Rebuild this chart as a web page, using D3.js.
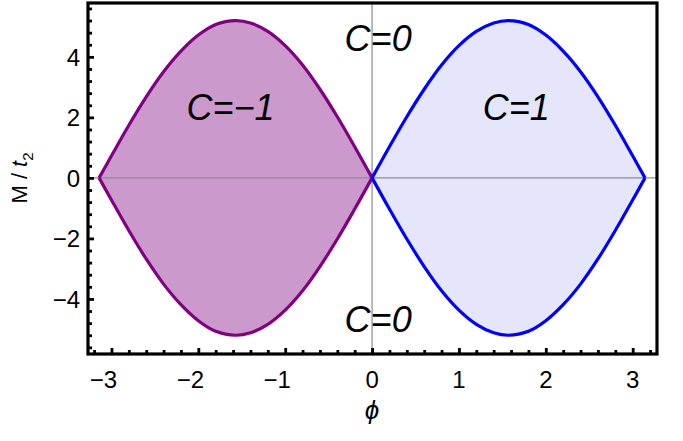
<!DOCTYPE html>
<html>
<head>
<meta charset="utf-8">
<script src="https://cdn.jsdelivr.net/npm/d3@7"></script>
<style>
  html, body { margin: 0; padding: 0; background: #fff; }
  svg { display: block; font-family: "Liberation Sans", Arial, sans-serif; }
</style>
</head>
<body>
<svg id="chart" width="683" height="441"></svg>
<script>
// Phase boundary M/t2 versus flux phi, right lobe (C = 1)
const phiRight = [0, 0.2, 0.4, 0.6, 0.8, 1.0, 1.2, 1.4, 1.571, 1.8, 2.0, 2.2, 2.4, 2.6, 2.8, 3.0, 3.142];
const mRightTop = [0, 1.03, 2.02, 2.93, 3.73, 4.37, 4.84, 5.12, 5.20, 5.07, 4.72, 4.19, 3.51, 2.68, 1.74, 0.73, 0];
const mRightBottom = [0, -1.03, -2.02, -2.93, -3.73, -4.37, -4.84, -5.12, -5.20, -5.07, -4.72, -4.19, -3.51, -2.68, -1.74, -0.73, 0];

// Left lobe (C = -1)
const phiLeft = [-3.142, -3.0, -2.8, -2.6, -2.4, -2.2, -2.0, -1.8, -1.571, -1.4, -1.2, -1.0, -0.8, -0.6, -0.4, -0.2, 0];
const mLeftTop = [0, 0.73, 1.74, 2.68, 3.51, 4.19, 4.72, 5.07, 5.20, 5.12, 4.84, 4.37, 3.73, 2.93, 2.02, 1.03, 0];
const mLeftBottom = [0, -0.73, -1.74, -2.68, -3.51, -4.19, -4.72, -5.07, -5.20, -5.12, -4.84, -4.37, -3.73, -2.93, -2.02, -1.03, 0];

// Axis ticks
const xMajorTicks = [-3, -2, -1, 0, 1, 2, 3];
const yMajorTicks = [-4, -2, 0, 2, 4];

// Region annotations
const regionLabels = ["C=0", "C=\u22121", "C=1", "C=0"];
const regionPhi = [0.07, -1.63, 1.66, 0.07];
const regionM = [4.2, 1.9, 1.9, -5.08];

const svg = d3.select("#chart");
const pLeft = 88, pRight = 657, pTop = 3, pBottom = 354;

const x = d3.scaleLinear().domain([-3.27, 3.28]).range([pLeft, pRight]);
const y = d3.scaleLinear().domain([-5.82, 5.78]).range([pBottom, pTop]);

svg.append("defs").append("clipPath").attr("id", "plotclip")
  .append("rect").attr("x", pLeft).attr("y", pTop).attr("width", pRight - pLeft).attr("height", pBottom - pTop);

const plot = svg.append("g").attr("clip-path", "url(#plotclip)");

const curve = d3.curveCatmullRom.alpha(0.5);
const line = d3.line().x(d => x(d.phi)).y(d => y(d.m)).curve(curve);
const area = d3.area().x(d => x(d.phi)).y0(d => y(d.lo)).y1(d => y(d.hi)).curve(curve);

function lobeData(phis, t, b) {
  return phis.map((p, i) => ({ phi: p, hi: t[i], lo: b[i] }));
}

const lobes = [
  { data: lobeData(phiLeft, mLeftTop, mLeftBottom), fill: "#cc99cc", stroke: "#800080" },
  { data: lobeData(phiRight, mRightTop, mRightBottom), fill: "#e5e5fb", stroke: "#0000ff" }
];

lobes.forEach(l => {
  plot.append("path").attr("d", area(l.data)).attr("fill", l.fill).attr("stroke", "none");
});

// zero axes
plot.append("line").attr("x1", x(0)).attr("x2", x(0)).attr("y1", pTop).attr("y2", pBottom)
  .attr("stroke", "#8c8c8c").attr("stroke-width", 1.2);
plot.append("line").attr("x1", pLeft).attr("x2", pRight).attr("y1", y(0)).attr("y2", y(0))
  .attr("stroke", "#8c8c8c").attr("stroke-width", 1.2);

// boundary curves
lobes.forEach(l => {
  const topPts = l.data.map(d => ({ phi: d.phi, m: d.hi }));
  const botPts = l.data.map(d => ({ phi: d.phi, m: d.lo }));
  [topPts, botPts].forEach(pts => {
    plot.append("path").attr("d", line(pts)).attr("fill", "none")
      .attr("stroke", l.stroke).attr("stroke-width", 3.2);
  });
});

// region labels
regionLabels.forEach((t, i) => {
  svg.append("text").attr("x", x(regionPhi[i])).attr("y", y(regionM[i]))
    .attr("text-anchor", "middle").attr("font-style", "italic").attr("font-size", 36)
    .attr("fill", "#000").text(t);
});

// ticks drawn inward from the left and bottom frame edges
const xMinor = d3.range(-3.2, 3.3, 0.2).map(v => Math.round(v * 10) / 10).filter(v => !xMajorTicks.includes(v));
const yMinor = d3.range(-5.6, 5.7, 0.4).map(v => Math.round(v * 10) / 10).filter(v => !yMajorTicks.includes(v));

function tickGroup(axis, tx, ty) {
  svg.append("g").attr("transform", `translate(${tx},${ty})`).call(axis)
    .call(g => g.select(".domain").remove())
    .call(g => g.selectAll("line").attr("stroke", "#000").attr("stroke-width", 2.8));
}
tickGroup(d3.axisTop(x).tickValues(xMajorTicks).tickSize(6).tickFormat(""), 0, pBottom);
tickGroup(d3.axisTop(x).tickValues(xMinor).tickSize(4).tickFormat(""), 0, pBottom);
tickGroup(d3.axisRight(y).tickValues(yMajorTicks).tickSize(6).tickFormat(""), pLeft, 0);
tickGroup(d3.axisRight(y).tickValues(yMinor).tickSize(4).tickFormat(""), pLeft, 0);

// tick labels
const fmt = v => (v < 0 ? "\u2212" + Math.abs(v) : String(v));
svg.append("g").selectAll("text").data(xMajorTicks).join("text")
  .attr("x", d => x(d) - (d < 0 ? 8 : 0)).attr("y", 388)
  .attr("text-anchor", "middle").attr("font-size", 24).attr("fill", "#000").text(fmt);
svg.append("g").selectAll("text").data(yMajorTicks).join("text")
  .attr("x", 80).attr("y", d => y(d) + 9)
  .attr("text-anchor", "end").attr("font-size", 24).attr("fill", "#000").text(fmt);

// frame
svg.append("rect").attr("x", pLeft).attr("y", pTop).attr("width", pRight - pLeft).attr("height", pBottom - pTop)
  .attr("fill", "none").attr("stroke", "#000").attr("stroke-width", 3.2);

// axis titles
svg.append("text").attr("x", x(0)).attr("y", 419).attr("text-anchor", "middle")
  .attr("font-size", 26).attr("font-style", "italic").text("\u03d5");
const yt = svg.append("text").attr("transform", "translate(27,178) rotate(-90)").attr("text-anchor", "middle")
  .style("font-size", "22px");
yt.append("tspan").text("M / ");
yt.append("tspan").attr("font-style", "italic").text("t");
yt.append("tspan").style("font-size", "15px").attr("dy", 6).text("2");
</script>
</body>
</html>
